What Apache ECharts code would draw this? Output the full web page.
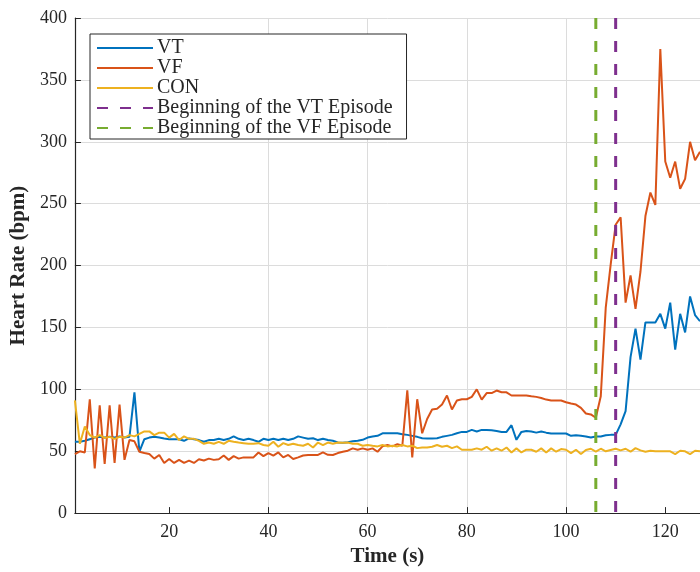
<!DOCTYPE html>
<html>
<head>
<meta charset="utf-8">
<script src="https://cdn.jsdelivr.net/npm/echarts@6/dist/echarts.min.js"></script>
<style>html,body{margin:0;padding:0;background:#fff}#c{width:700px;height:572px}</style>
</head>
<body>
<div id="c"></div>
<script>
// Sample times start at 1 s, one sample per second
const startTime = 1;
const vt = [57.6,57.6,58.4,59.7,61,61.6,61,61.6,61,61.9,61,61.6,97.6,49.6,59.7,61,61.6,61,60.3,59.7,
59.7,59.7,58.4,60.3,59.7,59,57.6,59,59,60,59,60,62,60,59,60,59,57.6,60,59,
60,59,60,59,60,62,61,60,60.5,59,60,59,58.4,57,56.8,57.3,58,58.4,59.2,61,
61.9,62.4,64.5,64.5,64.5,64.5,63.7,63.2,62.4,61.6,60.5,60.3,60.3,60.5,61.6,62.4,63.2,64.5,65.6,65.6,
67.2,65.9,67.2,67.2,67,66.4,65.6,65.6,71,59.2,65.6,66.4,65.9,65,65.9,65,64.3,64.3,64.3,64.3,
62.4,62.9,62.4,61.9,61,61.9,61.9,62.9,63.2,63.2,71.7,82.4,126,149,124,154,154,154,161,149,
170,132,161,146,175,160,155];
const vf = [47.7,49.9,49,92,36,87,39.7,87,40.5,87.7,43,59,58,49.6,48.5,47.7,44,46.9,40.5,43.7,
40.5,43,40.5,42.4,40.5,43.5,42.5,44,43,43.5,46.5,43,46,44,45,45,45,49,46,48.5,
46.5,49,45,47,43.7,45,46.5,47,47,47,49,47.1,46.9,48.5,49.6,50.4,52.3,51.2,52.3,51.2,
52.3,49.6,53.9,55,53.9,55.7,54.4,99.2,45,92,64.5,76,83.7,84.3,87.7,95,83.7,91,92,92,
93.9,100,91.7,97,97,99,97.6,97.6,95,95,95,95,94.4,93.9,93,91.7,91,91,91,89.6,
88.5,87.7,85,80.5,79.7,77,94.4,166,201,233,239,170,192,165,195,240,259,249,375,284,
271,284,262,270,300,285,292];
const con = [91,56,70,63,61,63,60.7,61.6,60,61.6,61,63,62,64,66,66,63,65,65,61,
64,59,62,60,60,58.4,56,57,56,57.6,56,58.4,57.6,57,56.5,56,56,56.5,55,54.4,
57.6,53.6,56.5,55,56,55,54.4,56,53,57,55,57,56,57,56.8,57,56,56,54.4,55,
54.4,53.9,55,53.9,54.4,53.9,55,53.9,54.4,52.5,53,53,53.6,55,53.6,54.4,52.5,53.9,51.2,51.2,
51.2,52.3,51.2,53.6,50.4,52.3,50.4,53,49,52.3,49,51.2,51.2,49.6,52.3,49,52.3,49.6,51.7,51.2,
48.5,51.2,47.7,51,52,49.6,52,49.9,51,52,50.7,52,49.6,52.5,50.7,49.6,50.4,49.9,49.9,49.9,
49.9,47.7,50.4,49.9,47.7,50.4,50];
const vtEpisode = 110;
const vfEpisode = 106;
const yRange = [0, 400];
const xRange = [1, 127];
const xTicks = [20, 40, 60, 80, 100, 120];
const seriesNames = ['VT','VF','CON','Beginning of the VT Episode','Beginning of the VF Episode'];
const colors = ['#0072BD','#D95319','#EDB120','#7E2F8E','#77AC30'];

function pairs(arr){ return arr.map((v,i)=>[startTime+i, v]); }

const serif = '"Liberation Serif", "DejaVu Serif", serif';
const chart = echarts.init(document.getElementById('c'), null, {renderer:'canvas'});
chart.setOption({
  animation:false,
  backgroundColor:'#fff',
  grid:{left:74, right:-2, top:18, bottom:54, containLabel:false},
  xAxis:{
    type:'value', min:xRange[0], max:xRange[1], splitNumber:6,
    name:'Time (s)', nameLocation:'middle', nameGap:27,
    nameTextStyle:{fontFamily:serif, fontWeight:'bold', fontSize:21, color:'#262626'},
    axisLine:{show:true, onZero:false, lineStyle:{color:'#262626', width:1.2}},
    axisTick:{show:true, inside:true, length:6, lineStyle:{color:'#262626'}, customValues:xTicks},
    axisLabel:{fontFamily:serif, fontSize:18, color:'#262626', margin:10, customValues:xTicks},
    splitLine:{show:true, showMinLine:false, showMaxLine:false, lineStyle:{color:'#dcdcdc', width:1}}
  },
  yAxis:{
    type:'value', min:yRange[0], max:yRange[1], interval:50,
    name:'Heart Rate (bpm)', nameLocation:'middle', nameGap:40, nameRotate:90,
    nameTextStyle:{fontFamily:serif, fontWeight:'bold', fontSize:21, color:'#262626'},
    axisLine:{show:true, lineStyle:{color:'#262626', width:1.2}},
    axisTick:{show:true, inside:true, length:6, lineStyle:{color:'#262626'}},
    axisLabel:{fontFamily:serif, fontSize:18, color:'#262626', margin:8},
    splitLine:{show:true, lineStyle:{color:'#dcdcdc', width:1}}
  },
  legend:{
    left:90, top:34, orient:'vertical', itemGap:0, itemWidth:56, itemHeight:14,
    padding:[4,14,1,6], backgroundColor:'#fff', borderColor:'#262626', borderWidth:1, borderRadius:0,
    itemStyle:{opacity:0},
    textStyle:{fontFamily:serif, fontSize:20, color:'#262626', lineHeight:19.5, padding:[0,0,0,-1]},
    data:seriesNames
  },
  series:[
    {name:seriesNames[0], type:'line', data:pairs(vt), symbol:'none', lineStyle:{color:colors[0], width:2}, itemStyle:{color:colors[0]}, z:3},
    {name:seriesNames[1], type:'line', data:pairs(vf), symbol:'none', lineStyle:{color:colors[1], width:2}, itemStyle:{color:colors[1]}, z:3},
    {name:seriesNames[2], type:'line', data:pairs(con), symbol:'none', lineStyle:{color:colors[2], width:2}, itemStyle:{color:colors[2]}, z:3},
    {name:seriesNames[3], type:'line', data:[[vtEpisode,yRange[1]],[vtEpisode,yRange[0]]], symbol:'none', lineStyle:{color:colors[3], width:3, type:[11,12]}, itemStyle:{color:colors[3]}, z:4},
    {name:seriesNames[4], type:'line', data:[[vfEpisode,yRange[1]],[vfEpisode,yRange[0]]], symbol:'none', lineStyle:{color:colors[4], width:3, type:[11,12]}, itemStyle:{color:colors[4]}, z:4}
  ]
});
</script>
</body>
</html>
